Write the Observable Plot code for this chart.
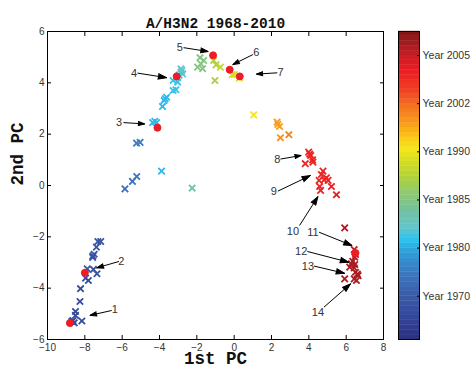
<!DOCTYPE html>
<html><head><meta charset="utf-8">
<script src="https://cdn.jsdelivr.net/npm/d3@7"></script>
<script src="https://cdn.jsdelivr.net/npm/@observablehq/plot@0.6"></script>
<style>
body{margin:0;background:#fff;}
#wrap{position:relative;width:473px;height:369px;background:#fff;}
#wrap svg{position:absolute;top:0;}
</style></head><body><div id="wrap"></div>
<script>
// strains: 1st PC, 2nd PC, colour index on the colorbar (0..64)
const strainX = [-7.30,-7.15,-7.38,-7.57,-7.58,-7.50,-7.87,-7.54,-7.35,-7.96,-7.81,-8.23,-8.26,-8.50,-8.50,-8.64,-8.16,-8.57,-8.70,
  -5.85,-5.45,-5.22,-5.23,-5.04,-3.89,-2.25,-4.37,-4.15,-4.25,
  -3.84,-3.75,-3.70,-3.62,-3.27,-3.12,-3.27,-3.03,-3.03,-2.85,-2.85,-2.76,-2.95,-2.80,
  -1.83,-1.63,-1.96,-1.69,-1.78,-1.10,-0.97,-0.74,-1.03,-0.11,0.01,0.28,1.05,
  2.30,2.34,2.43,2.48,2.93,
  3.99,4.05,4.10,4.20,4.22,3.81,
  4.76,4.67,4.94,4.82,5.03,4.55,4.58,4.63,5.21,5.48,
  5.92,6.43,6.50,6.46,6.28,6.46,6.19,6.43,6.50,6.64,6.43,5.92,6.55,6.35,6.60];
const strainY = [-2.18,-2.18,-2.40,-2.74,-2.80,-2.68,-3.25,-3.27,-3.44,-3.61,-3.70,-4.02,-4.52,-4.91,-5.06,-5.26,-5.28,-5.35,-5.30,
  -0.13,0.16,0.35,1.65,1.68,0.56,-0.10,2.45,2.45,2.50,
  3.08,3.31,3.38,3.44,3.70,3.73,4.09,4.03,4.20,4.41,4.55,4.35,4.30,4.48,
  4.98,4.87,4.61,4.55,4.74,4.87,4.70,4.61,4.09,4.32,4.32,4.18,2.75,
  2.47,2.38,2.30,1.86,1.98,
  1.30,1.22,1.17,1.00,0.91,0.85,
  0.56,0.43,0.30,0.22,0.20,0.20,-0.04,-0.19,-0.04,-0.36,
  -1.65,-2.50,-2.69,-2.79,-3.05,-3.08,-3.18,-3.21,-3.38,-3.51,-3.64,-3.64,-3.70,-2.95,-3.45];
const strainC = [8,8,8,7,7,7,7,7,7,6,6,6,6,5,5,5,5,5,5,
  12,12,13,14,14,20,26,20,20,20,
  20,20,20,20,21,21,21,21,22,23,23,23,22,23,
  29,29,29,29,29,33,34,35,33,37,37,38,40,
  45,45,45,46,47,
  55,55,55,55,55,55,
  55,55,55,55,55,55,55,55,56,57,
  61,60,60,60,61,61,61,61,61,61,61,61,61,61,61];
// vaccine strains (red markers)
const vaccineX = [-8.80,-8.00,-4.11,-3.08,-1.13,-0.24,0.30,6.50];
const vaccineY = [-5.36,-3.40,2.25,4.25,5.07,4.51,4.25,-2.63];
// numbered arrows
const labelText = ["1","2","3","4","5","6","7","8","9","10","11","12","13","14"];
const labelX = [-6.40,-6.04,-6.17,-5.36,-2.91,1.18,2.48,2.31,2.13,3.15,4.22,3.59,3.95,4.49];
const labelY = [-4.84,-2.96,2.45,4.38,5.39,5.17,4.39,1.00,-0.22,-1.78,-1.82,-2.57,-3.14,-4.96];
const arrowX1 = [-6.56,-6.17,-5.93,-5.18,-2.71,1.00,2.31,2.48,2.34,3.50,4.55,3.92,4.28,4.81];
const arrowY1 = [-4.87,-2.96,2.45,4.38,5.37,5.10,4.39,1.03,-0.22,-1.56,-1.82,-2.57,-3.14,-4.74];
const arrowX2 = [-7.73,-7.37,-4.79,-3.61,-1.39,-0.08,1.19,3.59,4.09,4.49,6.32,6.14,5.92,6.24];
const arrowY2 = [-5.06,-3.21,2.40,4.20,5.22,4.71,4.34,1.17,0.39,-0.43,-2.34,-2.99,-3.42,-3.83];
// axes
const xTicks = [-10,-8,-6,-4,-2,0,2,4,6,8];
const yTicks = [-6,-4,-2,0,2,4,6];
// colorbar
const cbTicks = [9,19,29,39,49,59];
const cbLabels = ["Year 1970","Year 1980","Year 1985","Year 1990","Year 2002","Year 2005"];
const cmapStops  = [0,4,8.8,13.7,17.9,20.6,23.4,26.8,30.3,33.7,37.1,39.7,42.7,45.5,49.1,51.3,55.9,59.3,62,64];
const cmapColors = ["#2b2e7c","#33449a","#3a5aa6","#3b78bf","#2f9bd8","#2cc2ef","#64c5ca","#72c29e","#8ec872","#b0d23a",
  "#d6de22","#f5e71a","#fbbb16","#f7951d","#f26a22","#ef4523","#ec1c24","#c41e25","#9a1b1e","#7d1416"];

const strains = strainX.map((x, i) => ({x, y: strainY[i], c: strainC[i]}));
const vaccines = vaccineX.map((x, i) => ({x, y: vaccineY[i]}));
const arrows = labelText.map((t, i) => ({t, lx: labelX[i], ly: labelY[i], x1: arrowX1[i], y1: arrowY1[i], x2: arrowX2[i], y2: arrowY2[i]}));
const colorScale = () => ({type: "linear", domain: cmapStops, range: cmapColors, interpolate: "rgb"});
const sans = "Liberation Sans, Arial, Helvetica, sans-serif";
const mono = "Liberation Mono, Courier New, monospace";

const main = Plot.plot({
  width: 473, height: 369,
  marginLeft: 47, marginRight: 90, marginTop: 31, marginBottom: 30,
  x: {domain: [-10, 8]},
  y: {domain: [-6, 6]},
  color: colorScale(),
  style: {fontFamily: sans, fontSize: "10px", background: "transparent", color: "#000"},
  marks: [
    Plot.axisX({anchor: "bottom", ticks: xTicks, tickSize: -4, tickPadding: 8, label: null, fill: "#333", stroke: "#000"}),
    Plot.axisX({anchor: "top", ticks: xTicks, tickSize: -4, tickFormat: () => "", label: null, stroke: "#000"}),
    Plot.axisY({anchor: "left", ticks: yTicks, tickSize: -4, tickPadding: 7, label: null, fill: "#333", stroke: "#000"}),
    Plot.axisY({anchor: "right", ticks: yTicks, tickSize: -4, tickFormat: () => "", label: null, stroke: "#000"}),
    Plot.dot(strains, {x: "x", y: "y", stroke: "c", symbol: "times", r: 3, strokeWidth: 1.8}),
    Plot.dot(vaccines, {x: "x", y: "y", r: 3.5, fill: "#ee1c24", stroke: "#ee1c24", strokeWidth: 1}),
    Plot.arrow(arrows, {x1: "x1", y1: "y1", x2: "x2", y2: "y2", stroke: "#000", fill: "#000", strokeWidth: 1, headLength: 14, headAngle: 36, strokeLinecap: "butt"}),
    Plot.text(arrows, {x: "lx", y: "ly", text: "t", fontSize: 11, fill: "#333", fontFamily: sans}),
    Plot.frame({stroke: "#000", strokeWidth: 1}),
    Plot.text(["A/H3N2 1968-2010"], {frameAnchor: "top", dy: -14, fontFamily: mono, fontWeight: "bold", fontSize: 14.5, fill: "#111"}),
    Plot.text(["1st PC"], {frameAnchor: "bottom", dy: 24, fontFamily: mono, fontWeight: "bold", fontSize: 17.5, fill: "#111"}),
    Plot.text(["2nd PC"], {frameAnchor: "left", dx: -30, rotate: -90, fontFamily: mono, fontWeight: "bold", fontSize: 17.5, fill: "#111"})
  ]
});

const bands = d3.range(64).map(i => ({i}));
const cb = Plot.plot({
  width: 75, height: 369,
  marginLeft: 0, marginRight: 54, marginTop: 31, marginBottom: 30,
  x: {domain: [0, 1], axis: null},
  y: {domain: [0, 64]},
  color: colorScale(),
  style: {fontFamily: sans, fontSize: "10.5px", background: "transparent", color: "#000"},
  marks: [
    Plot.rect(bands, {x1: () => 0, x2: () => 1, y1: d => d.i, y2: d => d.i + 1, fill: d => d.i + 0.5, stroke: d => d.i + 0.5, strokeWidth: 0.4}),
    Plot.frame({stroke: "#000", strokeWidth: 1}),
    Plot.axisY({anchor: "right", ticks: cbTicks, tickFormat: d => cbLabels[cbTicks.indexOf(d)], tickSize: -3, tickPadding: 6, label: null, fill: "#333", stroke: "#000"})
  ]
});

const wrap = document.getElementById("wrap");
main.style.left = "0px";
cb.style.left = "398px";
wrap.appendChild(main);
wrap.appendChild(cb);
</script>
</body></html>
